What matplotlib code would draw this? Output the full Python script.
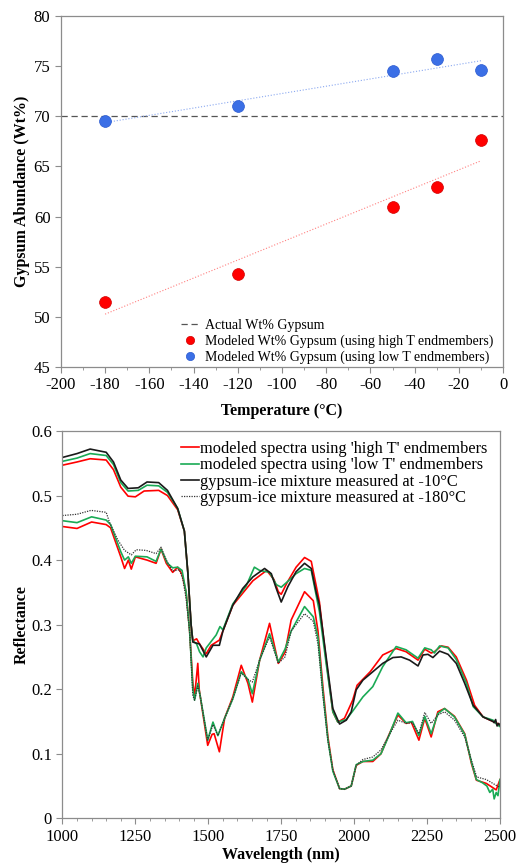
import matplotlib.pyplot as plt
from matplotlib.ticker import MultipleLocator
import numpy as np

plt.rcParams['font.family'] = ['Liberation Serif', 'DejaVu Serif']
plt.rcParams['axes.unicode_minus'] = False

# ---- top panel data: modeled gypsum abundance vs temperature
temps = [-180, -120, -50, -30, -10]
gyp_high = [51.5, 54.3, 60.9, 62.9, 67.6]
gyp_low = [69.5, 71.0, 74.5, 75.7, 74.6]
actual = 70

# ---- bottom panel data: spectra
wl_meas10 = [1000, 1050, 1095, 1150, 1175, 1200, 1225, 1260, 1290, 1330, 1360, 1395, 1418, 1430, 1441,
             1447, 1470, 1493, 1516, 1538, 1550, 1584, 1618, 1653, 1693, 1716, 1733, 1750, 1773, 1801,
             1830, 1853, 1870, 1881, 1904, 1927, 1950, 1973, 1990, 2007, 2030, 2064, 2098, 2133, 2161,
             2190, 2219, 2236, 2253, 2270, 2293, 2322, 2350, 2379, 2408, 2442, 2476, 2480, 2485, 2490,
             2495, 2500]
r_meas10 = [0.559, 0.565, 0.572, 0.567, 0.552, 0.524, 0.511, 0.512, 0.521, 0.520, 0.508, 0.480, 0.445,
            0.38, 0.30, 0.273, 0.27, 0.25, 0.268, 0.268, 0.29, 0.33, 0.356, 0.374, 0.387, 0.379, 0.356,
            0.335, 0.359, 0.382, 0.395, 0.387, 0.35, 0.33, 0.25, 0.17, 0.146, 0.152, 0.165, 0.199, 0.214,
            0.227, 0.24, 0.249, 0.25, 0.245, 0.236, 0.253, 0.254, 0.249, 0.259, 0.254, 0.24, 0.209, 0.175,
            0.157, 0.15, 0.148, 0.153, 0.143, 0.147, 0.144]

wl_high10 = [1000, 1050, 1095, 1150, 1175, 1200, 1225, 1250, 1280, 1330, 1360, 1395, 1418, 1430, 1441,
             1447, 1460, 1470, 1493, 1510, 1538, 1550, 1584, 1653, 1700, 1725, 1740, 1750, 1770, 1801,
             1830, 1853, 1870, 1881, 1904, 1927, 1944, 1967, 1995, 2010, 2055, 2098, 2144, 2178, 2219,
             2242, 2264, 2275, 2299, 2322, 2350, 2385, 2413, 2442, 2476, 2500]
r_high10 = [0.547, 0.552, 0.557, 0.555, 0.54, 0.513, 0.499, 0.498, 0.507, 0.508, 0.50, 0.478, 0.445,
            0.38, 0.30, 0.275, 0.278, 0.27, 0.255, 0.268, 0.276, 0.29, 0.33, 0.368, 0.384, 0.37, 0.351,
            0.347, 0.365, 0.389, 0.404, 0.398, 0.36, 0.335, 0.245, 0.165, 0.149, 0.155, 0.183, 0.206,
            0.227, 0.253, 0.263, 0.258, 0.245, 0.262, 0.256, 0.258, 0.267, 0.265, 0.25, 0.214, 0.175,
            0.157, 0.15, 0.145]

wl_low10 = [1000, 1050, 1095, 1150, 1175, 1200, 1225, 1260, 1290, 1330, 1360, 1395, 1418, 1430, 1441,
            1447, 1460, 1470, 1482, 1493, 1527, 1540, 1550, 1584, 1630, 1658, 1676, 1710, 1733, 1750,
            1770, 1801, 1830, 1853, 1870, 1881, 1904, 1927, 1944, 1973, 1995, 2030, 2064, 2098, 2144,
            2178, 2219, 2242, 2264, 2275, 2293, 2322, 2350, 2385, 2408, 2442, 2476, 2490, 2500]
r_low10 = [0.553, 0.558, 0.565, 0.562, 0.548, 0.52, 0.507, 0.508, 0.516, 0.515, 0.505, 0.48, 0.445,
           0.38, 0.30, 0.275, 0.27, 0.258, 0.25, 0.264, 0.284, 0.297, 0.292, 0.332, 0.36, 0.389, 0.384,
           0.381, 0.362, 0.358, 0.366, 0.379, 0.387, 0.384, 0.345, 0.32, 0.24, 0.165, 0.149, 0.153,
           0.166, 0.188, 0.204, 0.235, 0.266, 0.261, 0.248, 0.264, 0.261, 0.256, 0.267, 0.264, 0.246,
           0.209, 0.173, 0.157, 0.152, 0.145, 0.142]

wl_meas180 = [1000, 1050, 1098, 1150, 1161, 1190, 1213, 1236, 1253, 1287, 1321, 1338, 1356, 1378, 1401,
              1413, 1424, 1436, 1447, 1453, 1464, 1472, 1498, 1516, 1533, 1556, 1584, 1613, 1636, 1651,
              1676, 1710, 1740, 1763, 1784, 1830, 1860, 1876, 1893, 1910, 1927, 1950, 1967, 1990, 2007,
              2030, 2064, 2092, 2121, 2150, 2178, 2200, 2222, 2242, 2264, 2287, 2310, 2344, 2379, 2402,
              2420, 2453, 2487, 2500]
r_meas180 = [0.469, 0.471, 0.477, 0.474, 0.459, 0.431, 0.415, 0.408, 0.416, 0.415, 0.41, 0.42, 0.40,
             0.383, 0.385, 0.37, 0.34, 0.29, 0.19, 0.183, 0.205, 0.19, 0.121, 0.145, 0.128, 0.155, 0.185,
             0.225, 0.215, 0.211, 0.245, 0.281, 0.24, 0.25, 0.29, 0.317, 0.305, 0.27, 0.19, 0.12, 0.075,
             0.046, 0.045, 0.05, 0.082, 0.091, 0.095, 0.106, 0.13, 0.152, 0.147, 0.148, 0.131, 0.164,
             0.147, 0.16, 0.165, 0.152, 0.126, 0.09, 0.064, 0.06, 0.051, 0.048]

wl_high180 = [1000, 1050, 1100, 1150, 1165, 1200, 1213, 1226, 1236, 1250, 1290, 1321, 1338, 1356, 1378,
              1395, 1410, 1424, 1436, 1447, 1453, 1464, 1469, 1498, 1513, 1520, 1538, 1556, 1584, 1613,
              1636, 1651, 1676, 1710, 1740, 1763, 1784, 1830, 1860, 1876, 1893, 1910, 1927, 1950, 1967,
              1990, 2007, 2030, 2064, 2092, 2121, 2150, 2178, 2196, 2222, 2242, 2264, 2287, 2310, 2344,
              2379, 2402, 2419, 2453, 2487, 2500]
r_high180 = [0.452, 0.449, 0.459, 0.455, 0.45, 0.405, 0.387, 0.40, 0.386, 0.405, 0.40, 0.395, 0.417,
             0.395, 0.381, 0.389, 0.378, 0.35, 0.29, 0.21, 0.188, 0.24, 0.199, 0.113, 0.13, 0.131, 0.103,
             0.155, 0.188, 0.237, 0.209, 0.18, 0.245, 0.302, 0.24, 0.257, 0.307, 0.351, 0.337, 0.29,
             0.203, 0.126, 0.075, 0.046, 0.045, 0.05, 0.082, 0.088, 0.088, 0.10, 0.131, 0.16, 0.147,
             0.149, 0.121, 0.155, 0.126, 0.165, 0.17, 0.158, 0.131, 0.085, 0.059, 0.054, 0.044, 0.06]

wl_low180 = [1000, 1050, 1100, 1150, 1165, 1200, 1213, 1226, 1236, 1250, 1290, 1321, 1338, 1360, 1378,
             1395, 1410, 1424, 1436, 1447, 1453, 1464, 1472, 1498, 1516, 1533, 1556, 1584, 1613, 1636,
             1651, 1676, 1710, 1740, 1763, 1784, 1830, 1860, 1876, 1893, 1910, 1927, 1950, 1967, 1990,
             2007, 2030, 2064, 2092, 2121, 2150, 2178, 2200, 2222, 2242, 2264, 2287, 2310, 2344, 2379,
             2402, 2419, 2440, 2455, 2465, 2475, 2480, 2487, 2493, 2500]
r_low180 = [0.461, 0.458, 0.467, 0.462, 0.455, 0.413, 0.40, 0.405, 0.395, 0.406, 0.405, 0.398, 0.417,
            0.395, 0.388, 0.389, 0.384, 0.35, 0.29, 0.20, 0.183, 0.209, 0.19, 0.121, 0.149, 0.128, 0.155,
            0.185, 0.227, 0.215, 0.193, 0.245, 0.286, 0.242, 0.262, 0.29, 0.328, 0.312, 0.28, 0.195,
            0.122, 0.073, 0.046, 0.045, 0.05, 0.083, 0.088, 0.09, 0.10, 0.13, 0.163, 0.148, 0.15, 0.128,
            0.158, 0.131, 0.162, 0.17, 0.157, 0.13, 0.087, 0.06, 0.055, 0.05, 0.04, 0.045, 0.03, 0.04,
            0.035, 0.06]

RED = '#ff0000'
BLUE = '#3b6fe6'
GREEN = '#1aaa55'
SPINE = '#8c8c8c'

fig = plt.figure(figsize=(5.16, 8.67), dpi=100)

# ---------------- top panel
ax1 = fig.add_axes([0.118, 0.5767, 0.857, 0.405])
ax1.axhline(actual, color='#555555', linestyle=(0, (5, 3)), linewidth=0.9, label='Actual Wt% Gypsum')

fit_x = np.array([temps[0], temps[-1]])
ph = np.polyfit(temps, gyp_high, 1)
pl = np.polyfit(temps, gyp_low, 1)
ax1.plot(fit_x, np.polyval(ph, fit_x), color='#ff8080', linestyle=':', linewidth=0.8)
ax1.plot(fit_x, np.polyval(pl, fit_x), color='#8aa8f0', linestyle=':', linewidth=0.8)

ax1.plot(temps, gyp_high, 'o', color=RED, markersize=8.5, markeredgecolor='#d00000', markeredgewidth=0.5,
         label='Modeled Wt% Gypsum (using high T endmembers)')
ax1.plot(temps, gyp_low, 'o', color=BLUE, markersize=8.5, markeredgecolor='#2a5ad0', markeredgewidth=0.5,
         label='Modeled Wt% Gypsum (using low T endmembers)')

ax1.set_xlim(-200, 0)
ax1.set_ylim(45, 80)
ax1.xaxis.set_major_locator(MultipleLocator(20))
ax1.xaxis.set_minor_locator(MultipleLocator(10))
ax1.yaxis.set_major_locator(MultipleLocator(5))
ax1.set_xlabel('Temperature (°C)', fontsize=11.5, fontweight='bold', labelpad=7)
ax1.set_ylabel('Gypsum Abundance (Wt%)', fontsize=11.5, fontweight='bold', labelpad=3)
ax1.legend(loc='lower left', bbox_to_anchor=(0.25, -0.02), frameon=False, fontsize=10,
           handlelength=1.3, handletextpad=0.4, labelspacing=0.2, borderpad=0.2, markerscale=0.7)

# ---------------- bottom panel
ax2 = fig.add_axes([0.121, 0.0562, 0.848, 0.4467])
ax2.plot(wl_high10, r_high10, color=RED, linewidth=1.2, label="modeled spectra using 'high T' endmembers")
ax2.plot(wl_low10, r_low10, color=GREEN, linewidth=1.2, label="modeled spectra using 'low T' endmembers")
ax2.plot(wl_meas10, r_meas10, color='#1a1a1a', linewidth=1.2, label='gypsum-ice mixture measured at -10°C')
ax2.plot(wl_high180, r_high180, color=RED, linewidth=1.2)
ax2.plot(wl_low180, r_low180, color=GREEN, linewidth=1.2)
ax2.plot(wl_meas180, r_meas180, color='#333333', linewidth=0.9, linestyle=(0, (1, 1)),
         label='gypsum-ice mixture measured at -180°C')

ax2.set_xlim(1000, 2500)
ax2.set_ylim(0, 0.6)
ax2.xaxis.set_major_locator(MultipleLocator(250))
ax2.xaxis.set_minor_locator(MultipleLocator(50))
ax2.set_yticks([0, 0.1, 0.2, 0.3, 0.4, 0.5, 0.6])
ax2.set_yticklabels(['0', '0.1', '0.2', '0.3', '0.4', '0.5', '0.6'])
ax2.set_xlabel('Wavelength (nm)', fontsize=11.5, fontweight='bold', labelpad=2)
ax2.set_ylabel('Reflectance', fontsize=11.5, fontweight='bold', labelpad=1)
ax2.legend(loc='upper right', bbox_to_anchor=(1.0, 1.008), frameon=False, fontsize=11.8,
           handlelength=1.1, handletextpad=0.05, labelspacing=0.02, borderpad=0.3)

for ax in (ax1, ax2):
    for s in ax.spines.values():
        s.set_color(SPINE)
        s.set_linewidth(0.9)
    ax.tick_params(which='both', direction='out', color=SPINE, labelsize=12)
    ax.tick_params(which='major', length=4)
    ax.tick_params(which='minor', length=2.5)

fig.savefig('out.png', dpi=100)
